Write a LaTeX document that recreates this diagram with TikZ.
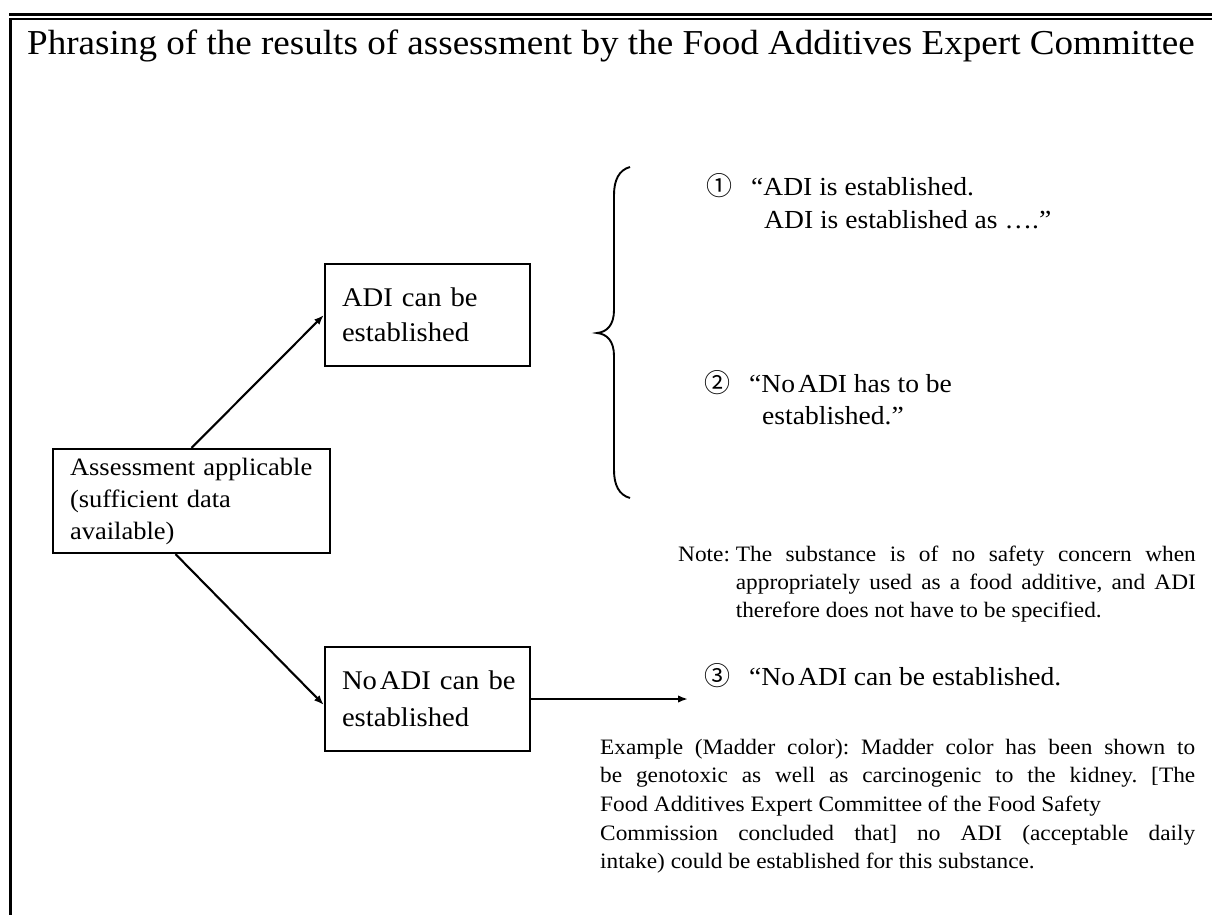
\documentclass[tikz,border=0pt]{standalone}
\usepackage{fontspec}
\setmainfont{Liberation Serif}[FakeStretch=1.06]
\newfontfamily\cjk{Noto Sans CJK JP}
\usetikzlibrary{arrows.meta}
\newcommand{\fsz}[2]{\fontsize{#1}{#2}\selectfont}
\newcommand{\circnum}[1]{\makebox[45pt][l]{\cjk\fsz{26}{26}#1}}
\newcommand{\NoADI}{No\hspace{3pt}ADI}
\frenchspacing

\begin{document}
\begin{tikzpicture}[x=1pt, y=-1pt,
  box/.style={draw, line width=2.2pt, inner xsep=17pt, inner ysep=0pt, align=left},
  arrow/.style={line width=2.1pt, -{Latex[length=10pt, width=7.5pt]}},
  rule/.style={line width=2.7pt},
  txt/.style={anchor=base west, inner sep=0pt, align=left}]
\useasboundingbox (0,0) rectangle (1212,915);
%Frame
\draw[rule] (9.3,14.7) -- (1212,14.7);
\draw[rule] (9.3,19) -- (1212,19);
\draw[rule] (10.7,19) -- (10.7,915);
%Boxes
\node[box, font=\fsz{25}{32}, minimum width=277pt, minimum height=104pt, text width=243pt] (assess) at (191.5,501) {\mbox{Assessment applicable}\\\mbox{(sufficient data}\\available)};
\node[box, font=\fsz{27}{35}, minimum width=205pt, minimum height=102pt, text width=171pt] (canADI) at (427.5,315) {\mbox{ADI can be}\\established};
\node[box, font=\fsz{27}{37}, minimum width=205pt, minimum height=104pt, text width=171pt] (noADI) at (427.5,699) {\mbox{\NoADI{} can be}\\established};
\coordinate (tip3) at (688,699);
%Arrows
\draw[arrow] (assess.north) -- (canADI.west);
\draw[arrow] ([xshift=-16pt]assess.south) -- ([yshift=-6pt]noADI.west);
\draw[arrow] (noADI.east) -- (tip3);
%Brace
\draw[line width=1.9pt] (630,167) .. controls (619,170) and (614,180) .. (614,195) -- (614,310) .. controls (614,325) and (607,332) .. (597,333) .. controls (607,334) and (614,341) .. (614,356) -- (614,470) .. controls (614,485) and (619,495) .. (630,498);
%Text
\node[txt, font=\fsz{35}{40}] (title) at (27,55) {Phrasing of the results of assessment by the Food Additives Expert Committee};
\node[txt, font=\fsz{26}{33}] (opt1) at (706,195) {\circnum{①}“ADI is established.};
\node[txt, font=\fsz{26}{33}] (opt1b) at (764,228) {ADI is established as ….”};
\node[txt, font=\fsz{26}{33}] (opt2) at (704,392) {\circnum{②}“\NoADI{} has to be};
\node[txt, font=\fsz{26}{33}] (opt2b) at (762,424) {established.”};
\node[txt, font=\fsz{26}{33}] (opt3) at (704,685) {\circnum{③}“\NoADI{} can be established.};
\node[txt, font=\fsz{22}{28}] (note) at (678,561) {Note: \parbox[t]{460pt}{The substance is of no safety concern when\linebreak appropriately used as a food additive, and ADI\linebreak therefore does not have to be specified.}};
\node[txt, font=\fsz{22}{28.7}] (example) at (600,754) {\parbox[t]{595pt}{Example (Madder color): Madder color has been shown to\linebreak be genotoxic as well as carcinogenic to the kidney. [The\linebreak Food Additives Expert Committee of the Food Safety\newline Commission concluded that] no ADI (acceptable daily\linebreak intake) could be established for this substance.}};
\end{tikzpicture}
\end{document}
